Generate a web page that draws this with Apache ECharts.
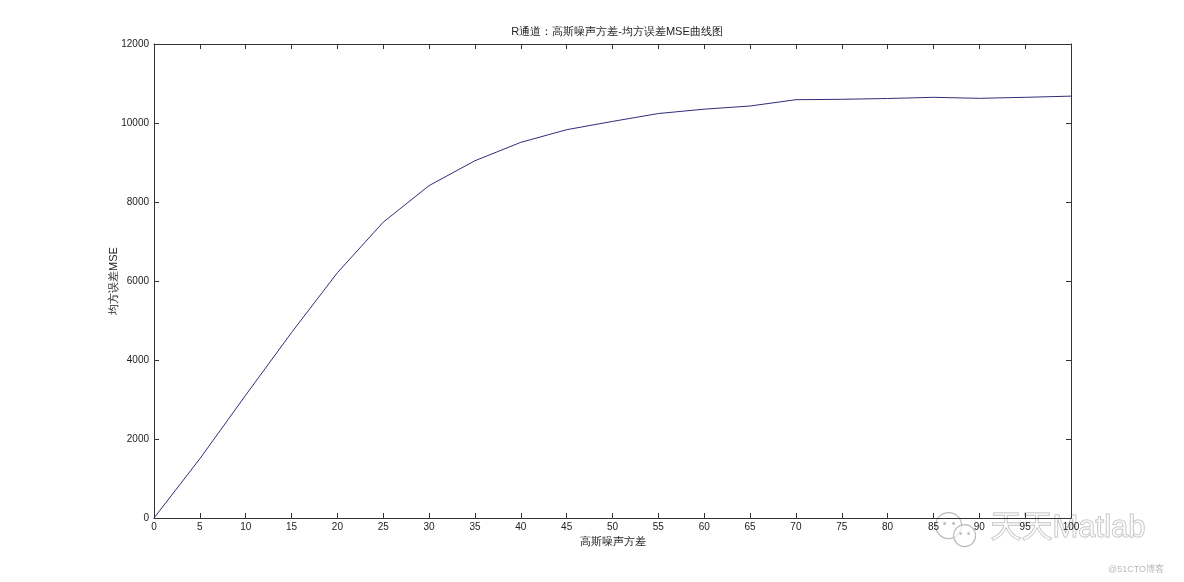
<!DOCTYPE html>
<html>
<head>
<meta charset="utf-8">
<script src="https://cdn.jsdelivr.net/npm/echarts@6/dist/echarts.min.js"></script>
<style>html,body{margin:0;padding:0;background:#fff;}#c{width:1184px;height:582px;}</style>
</head>
<body>
<div id="c"></div>
<script>
const noiseVar = [0,5,10,15,20,25,30,35,40,45,50,55,60,65,70,75,80,85,90,95,100];
const mseValues = [0,1500,3110,4695,6210,7490,8415,9045,9510,9830,10040,10240,10350,10430,10590,10600,10620,10650,10625,10650,10680];
const xTicks = [0,5,10,15,20,25,30,35,40,45,50,55,60,65,70,75,80,85,90,95,100];
const yTicks = [0,2000,4000,6000,8000,10000,12000];

const FONT = "'Liberation Sans Narrow','Liberation Sans',Arial,sans-serif";
const axisColor = '#333';
const chart = echarts.init(document.getElementById('c'), null, {renderer:'canvas'});
const baseX = {
  type:'value', min:0, max:100, interval:5,
  axisLine:{show:true, onZero:false, lineStyle:{color:axisColor, width:1}},
  axisTick:{show:true, inside:true, length:5, lineStyle:{color:axisColor}},
  splitLine:{show:false}
};
const baseY = {
  type:'value', min:0, max:12000, interval:2000,
  axisLine:{show:true, onZero:false, lineStyle:{color:axisColor, width:1}},
  axisTick:{show:true, inside:true, length:5, lineStyle:{color:axisColor}},
  splitLine:{show:false}
};
chart.setOption({
  backgroundColor:'#fff',
  animation:false,
  title:{
    text:'R通道：高斯噪声方差-均方误差MSE曲线图',
    left:612, top:21, textAlign:'center',
    textStyle:{fontSize:11, fontWeight:'normal', color:'#222', fontFamily:FONT}
  },
  grid:{left:154, right:113, top:44, bottom:64, containLabel:false},
  xAxis:[
    Object.assign({}, baseX, {
      position:'bottom',
      name:'高斯噪声方差', nameLocation:'middle', nameGap:18, nameMoveOverlap:false,
      nameTextStyle:{fontSize:11, color:'#222', fontFamily:FONT},
      axisLabel:{show:true, fontSize:10, color:'#222', margin:4, fontFamily:FONT,
        formatter:function(v){return xTicks.indexOf(v)>=0? String(v):'';}}
    }),
    Object.assign({}, baseX, {position:'top', axisLabel:{show:false}})
  ],
  yAxis:[
    Object.assign({}, baseY, {
      position:'left',
      name:'均方误差MSE', nameLocation:'middle', nameGap:35, nameMoveOverlap:false,
      nameTextStyle:{fontSize:11, color:'#222', fontFamily:FONT},
      axisLabel:{show:true, fontSize:10, color:'#222', margin:5, fontFamily:FONT,
        formatter:function(v){return yTicks.indexOf(v)>=0? String(v):'';}}
    }),
    Object.assign({}, baseY, {position:'right', axisLabel:{show:false}})
  ],
  series:[{
    type:'line',
    data: noiseVar.map((x,i)=>[x, mseValues[i]]),
    xAxisIndex:0, yAxisIndex:0,
    showSymbol:false, symbol:'none',
    lineStyle:{color:'#2e2e78', width:1},
    smooth:false
  }],
  graphic:[
    {type:'group', left:935, top:512, children:[
      {type:'circle', shape:{cx:16, cy:14, r:13}, style:{fill:'rgba(255,255,255,0.6)', stroke:'#bbb', lineWidth:1.2}},
      {type:'circle', shape:{cx:32, cy:24, r:11}, style:{fill:'rgba(255,255,255,0.7)', stroke:'#bbb', lineWidth:1.2}},
      {type:'circle', shape:{cx:12, cy:12, r:1.5}, style:{fill:'#bbb'}},
      {type:'circle', shape:{cx:21, cy:12, r:1.5}, style:{fill:'#bbb'}},
      {type:'circle', shape:{cx:28, cy:22, r:1.3}, style:{fill:'#bbb'}},
      {type:'circle', shape:{cx:36, cy:22, r:1.3}, style:{fill:'#bbb'}}
    ]},
    {type:'text', left:990, top:512, style:{text:'天天Matlab', font:"31px 'Liberation Sans','Noto Sans CJK SC',sans-serif", fill:'rgba(255,255,255,0.5)', stroke:'#b5b5b5', lineWidth:1}},
    {type:'text', left:1108, top:565, style:{text:'@51CTO博客', font:"9px 'Liberation Sans','Noto Sans CJK SC',sans-serif", fill:'#bbb'}}
  ]
});
</script>
</body>
</html>
